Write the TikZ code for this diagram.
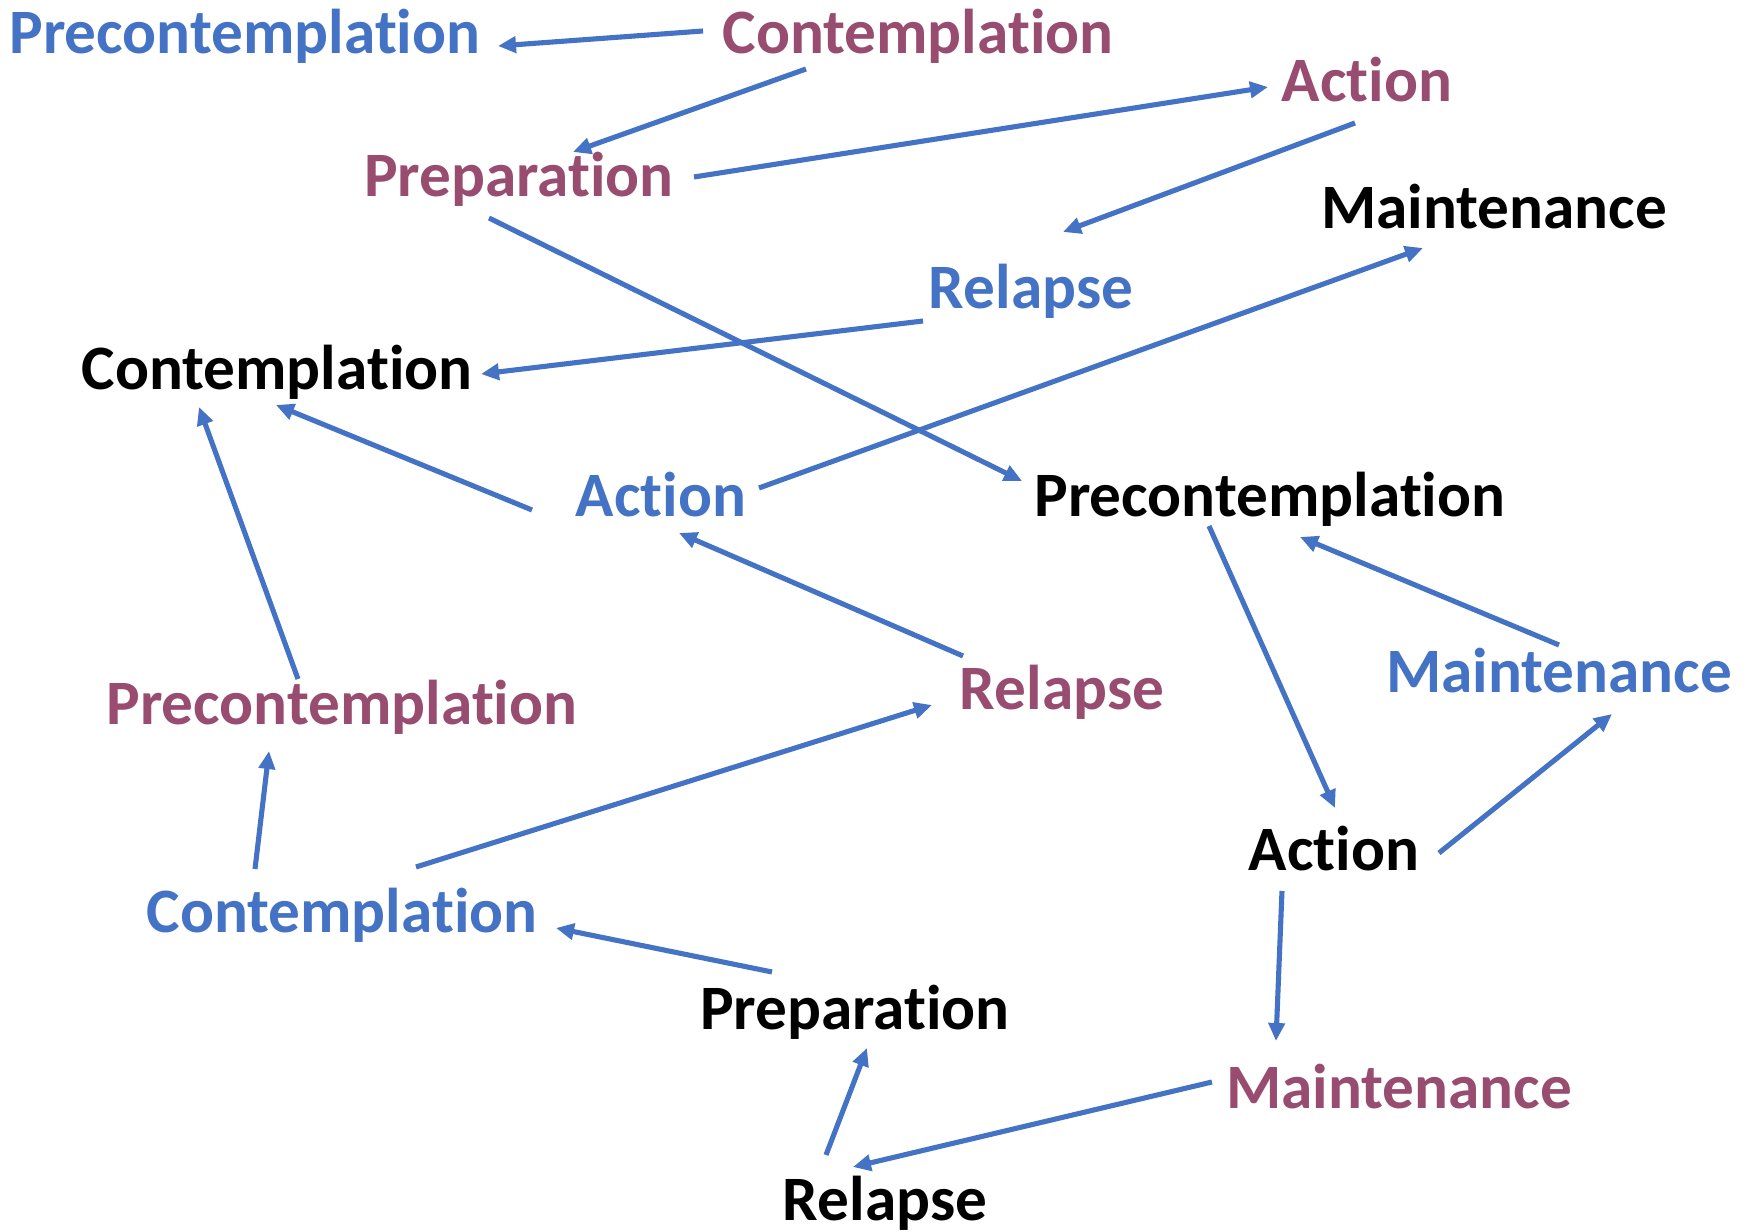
\documentclass[tikz,border=0pt]{standalone}
\usepackage{fontspec}
\setmainfont{Carlito}[Ligatures=NoCommon]
\usetikzlibrary{arrows.meta}
\definecolor{stageblue}{HTML}{4472C4}
\definecolor{stageberry}{HTML}{984C70}

\begin{document}
\begin{tikzpicture}[
    x=0.1mm, y=-0.1mm,
    lbl/.style={anchor=base, inner sep=0pt, font=\fontsize{18}{22}\selectfont\bfseries},
    bl/.style={lbl, text=stageblue},
    br/.style={lbl, text=stageberry},
    bk/.style={lbl, text=black},
    arrow/.style={-{Triangle[length=1.8mm, width=1.6mm]}, stageblue, line width=1.45pt},
]
\useasboundingbox (0,0) rectangle (1755,1232);

% Labels
\node[bl] (pre1)  at (245,54)   {Precontemplation};
\node[br] (con1)  at (918,54)   {Contemplation};
\node[br] (act1)  at (1367,102) {Action};
\node[br] (prep1) at (519,197)  {Preparation};
\node[bk] (main1) at (1494,229) {Maintenance};
\node[bl] (rel1)  at (1031,309) {Relapse};
\node[bk] (con2)  at (277,390)  {Contemplation};
\node[bl] (act2)  at (661,517)  {Action};
\node[bk] (pre2)  at (1270,517) {Precontemplation};
\node[bl] (main2) at (1559,693) {Maintenance};
\node[br] (rel2)  at (1062,710) {Relapse};
\node[br] (pre3)  at (342,725)  {Precontemplation};
\node[bk] (act3)  at (1334,871) {Action};
\node[bl] (con3)  at (342,933)  {Contemplation};
\node[bk] (prep2) at (855,1030) {Preparation};
\node[br] (main3) at (1399,1109) {Maintenance};
\node[bk] (rel3)  at (885,1221) {Relapse};

% Arrows
\draw[arrow] ([shift={(-215,-23)}]con1.base) -- ([shift={(253,-8)}]pre1.base);
\draw[arrow] ([shift={(-112,15)}]con1.base) -- ([shift={(54,-45)}]prep1.base);
\draw[arrow] ([shift={(175,-20)}]prep1.base) -- ([shift={(-99,-15)}]act1.base);
\draw[arrow] ([shift={(-12,21)}]act1.base) -- ([shift={(32,-77)}]rel1.base);
\draw[arrow] ([shift={(-30,21)}]prep1.base) -- ([shift={(-248,-36)}]pre2.base);
\draw[arrow] ([shift={(-108,12)}]rel1.base) -- ([shift={(204,-16)}]con2.base);
\draw[arrow] ([shift={(98,-29)}]act2.base) -- ([shift={(-71,19)}]main1.base);
\draw[arrow] ([shift={(-129,-7)}]act2.base) -- ([shift={(-1,15)}]con2.base);
\draw[arrow] ([shift={(-99,-54)}]rel2.base) -- ([shift={(18,16)}]act2.base);
\draw[arrow] ([shift={(-44,-46)}]pre3.base) -- ([shift={(-78,17)}]con2.base);
\draw[arrow] ([shift={(-61,9)}]pre2.base) -- ([shift={(1,-63)}]act3.base);
\draw[arrow] ([shift={(0,-48)}]main2.base) -- ([shift={(30,20)}]pre2.base);
\draw[arrow] ([shift={(105,-18)}]act3.base) -- ([shift={(53,21)}]main2.base);
\draw[arrow] ([shift={(-87,-64)}]con3.base) -- ([shift={(-73,26)}]pre3.base);
\draw[arrow] ([shift={(74,-66)}]con3.base) -- ([shift={(-130,-5)}]rel2.base);
\draw[arrow] ([shift={(-83,-58)}]prep2.base) -- ([shift={(214,-5)}]con3.base);
\draw[arrow] ([shift={(-52,20)}]act3.base) -- ([shift={(-123,-68)}]main3.base);
\draw[arrow] ([shift={(-187,-27)}]main3.base) -- ([shift={(-32,-54)}]rel3.base);
\draw[arrow] ([shift={(-59,-66)}]rel3.base) -- ([shift={(12,18)}]prep2.base);

\end{tikzpicture}
\end{document}
